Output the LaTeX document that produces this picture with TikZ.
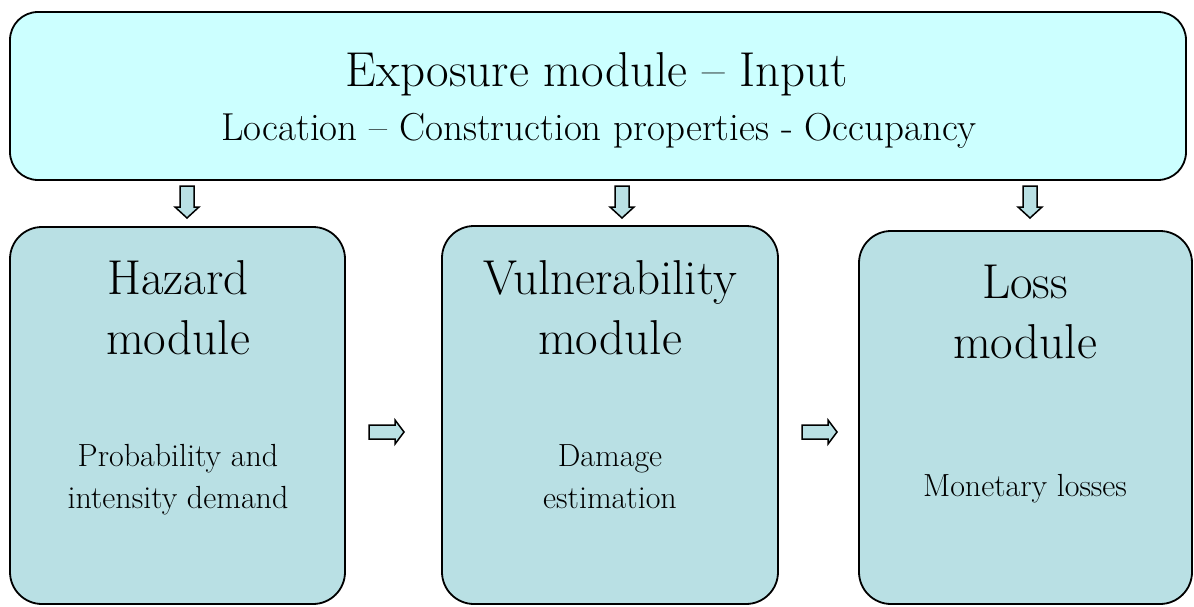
\documentclass[tikz,border=0pt]{standalone}
\usepackage{fontspec}
\begin{document}
\begin{tikzpicture}[x=1pt,y=-1pt,
  topbox/.style={draw=black, line width=1.8pt, fill=topcol, rounded corners=28pt, inner sep=0pt},
  modbox/.style={draw=black, line width=1.8pt, fill=modcol, rounded corners=32pt, inner sep=0pt},
  lbl/.style={inner sep=0pt, anchor=base, align=center, text=black},
  arrowfill/.style={draw=black, line width=1.5pt, fill=modcol, line join=miter},
  darr/.pic={\draw[arrowfill] (-7,0) -- (-7,21) -- (-12,21) -- (0,32) -- (12,21) -- (7,21) -- (7,0) -- cycle;},
  rarr/.pic={\draw[arrowfill] (0,-7) -- (26,-7) -- (26,-12) -- (35,0) -- (26,12) -- (26,7) -- (0,7) -- cycle;}
]
\definecolor{topcol}{HTML}{CCFFFF}
\definecolor{modcol}{HTML}{B9E0E4}
\useasboundingbox (0,0) rectangle (1194,607);
% boxes
\node[topbox, minimum width=1176pt, minimum height=168pt] (expo) at (598,96) {};
\node[modbox, minimum width=335pt, minimum height=377pt] (haz) at (177.5,415.5) {};
\node[modbox, minimum width=336pt, minimum height=378pt] (vul) at (610,415) {};
\node[modbox, minimum width=333pt, minimum height=373pt] (loss) at (1025.5,417.5) {};
% texts (base anchor = baseline of last line)
\node[lbl, font=\fontsize{49}{58}\selectfont] (t1) at (597,87) {Exposure module -- Input};
\node[lbl, font=\fontsize{39}{44}\selectfont] (t2) at (599,141) {Location -- Construction properties - Occupancy};
\node[lbl, font=\fontsize{49}{60}\selectfont] (h1) at (178,354) {Hazard\\module};
\node[lbl, font=\fontsize{32}{42}\selectfont] (h2) at (178,508) {Probability and\\intensity demand};
\node[lbl, font=\fontsize{49}{60}\selectfont] (v1) at (610,354) {Vulnerability\\module};
\node[lbl, font=\fontsize{32}{42}\selectfont] (v2) at (610,508) {Damage\\estimation};
\node[lbl, font=\fontsize{49}{60}\selectfont] (l1) at (1025,358) {Loss\\module};
\node[lbl, font=\fontsize{32}{42}\selectfont] (l2) at (1025,496) {Monetary losses};
% block arrows
\pic at (187,186) {darr};
\pic at (622,186) {darr};
\pic at (1030,186) {darr};
\pic at (369,432) {rarr};
\pic at (802,432) {rarr};
\end{tikzpicture}
\end{document}
